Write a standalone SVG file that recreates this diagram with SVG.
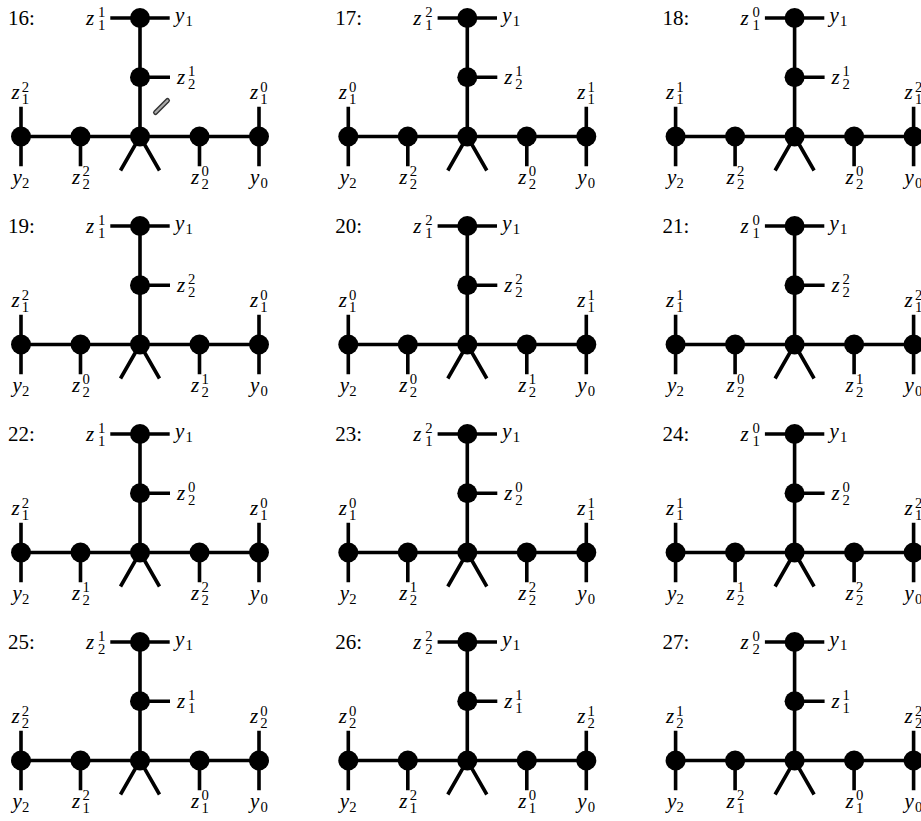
<svg xmlns="http://www.w3.org/2000/svg" xmlns:xlink="http://www.w3.org/1999/xlink" width="921" height="821" viewBox="0 0 921 821">
<style>
.e{fill:none;stroke:#000;stroke-width:3.6;stroke-linecap:butt}
.n{fill:#000}
.m{font-family:"Liberation Serif","Times New Roman",serif;font-style:italic;font-size:21px;fill:#000}
.s{font-style:normal;font-size:14.7px}
.num{font-family:"Liberation Serif","Times New Roman",serif;font-size:21px;fill:#000}
</style>
<defs>
<path id="skel" class="e" d="M0,0V118.5M-119,118.5H119M-29.7,0H29.7M0,59.25H30M-119,88.8V148.2M119,88.8V148.2M-59.5,118.5V148.2M59.5,118.5V148.2M0,118.5L-19.5,152.5M0,118.5L19.5,152.5"/>
</defs>
<rect width="921" height="821" fill="#fff"/>

<g id="p16" transform="translate(140,18)">
<text class="num" x="-132" y="7">16:</text>
<g id="p16-edges"><use xlink:href="#skel" href="#skel"/></g>
<g id="p16-top"><circle class="n" r="10"/><text class="m" x="-54" y="6.5">z<tspan class="s" x="-42" y="-1">1</tspan><tspan class="s" x="-42" y="11.5">1</tspan></text><text class="m" x="35" y="4">y<tspan class="s" x="45.5" y="8">1</tspan></text></g>
<g id="p16-mid"><circle class="n" cy="59.25" r="10"/><text class="m" x="37" y="65.75">z<tspan class="s" x="48" y="58.25">1</tspan><tspan class="s" x="48" y="70.75">2</tspan></text></g>
<g id="p16-left"><circle class="n" cx="-119" cy="118.5" r="10"/><text class="m" x="-128.5" y="81">z<tspan class="s" x="-118.3" y="73.5">2</tspan><tspan class="s" x="-118.3" y="86">1</tspan></text><text class="m" x="-127.5" y="165.5">y<tspan class="s" x="-118" y="169.5">2</tspan></text></g>
<g id="p16-il"><circle class="n" cx="-59.5" cy="118.5" r="10"/><text class="m" x="-68" y="165.5">z<tspan class="s" x="-57.5" y="158">2</tspan><tspan class="s" x="-57.5" y="171">2</tspan></text></g>
<g id="p16-hub"><circle class="n" cy="118.5" r="10"/></g>
<g id="p16-ir"><circle class="n" cx="59.5" cy="118.5" r="10"/><text class="m" x="51" y="165.5">z<tspan class="s" x="61.5" y="158">0</tspan><tspan class="s" x="61.5" y="171">2</tspan></text></g>
<g id="p16-right"><circle class="n" cx="119" cy="118.5" r="10"/><text class="m" x="110" y="81">z<tspan class="s" x="120.3" y="73.5">0</tspan><tspan class="s" x="120.3" y="86">1</tspan></text><text class="m" x="110" y="165.5">y<tspan class="s" x="120.5" y="169.5">0</tspan></text></g>
<g id="mark"><line x1="15.5" y1="94.5" x2="27.5" y2="82.5" stroke="#333" stroke-width="5" stroke-linecap="round"/><line x1="15.5" y1="94.5" x2="27.5" y2="82.5" stroke="#aaa" stroke-width="2.2" stroke-linecap="round"/></g>
</g>

<g id="p17" transform="translate(467.3,18)">
<text class="num" x="-132" y="7">17:</text>
<g id="p17-edges"><use xlink:href="#skel" href="#skel"/></g>
<g id="p17-top"><circle class="n" r="10"/><text class="m" x="-54" y="6.5">z<tspan class="s" x="-42" y="-1">2</tspan><tspan class="s" x="-42" y="11.5">1</tspan></text><text class="m" x="35" y="4">y<tspan class="s" x="45.5" y="8">1</tspan></text></g>
<g id="p17-mid"><circle class="n" cy="59.25" r="10"/><text class="m" x="37" y="65.75">z<tspan class="s" x="48" y="58.25">1</tspan><tspan class="s" x="48" y="70.75">2</tspan></text></g>
<g id="p17-left"><circle class="n" cx="-119" cy="118.5" r="10"/><text class="m" x="-128.5" y="81">z<tspan class="s" x="-118.3" y="73.5">0</tspan><tspan class="s" x="-118.3" y="86">1</tspan></text><text class="m" x="-127.5" y="165.5">y<tspan class="s" x="-118" y="169.5">2</tspan></text></g>
<g id="p17-il"><circle class="n" cx="-59.5" cy="118.5" r="10"/><text class="m" x="-68" y="165.5">z<tspan class="s" x="-57.5" y="158">2</tspan><tspan class="s" x="-57.5" y="171">2</tspan></text></g>
<g id="p17-hub"><circle class="n" cy="118.5" r="10"/></g>
<g id="p17-ir"><circle class="n" cx="59.5" cy="118.5" r="10"/><text class="m" x="51" y="165.5">z<tspan class="s" x="61.5" y="158">0</tspan><tspan class="s" x="61.5" y="171">2</tspan></text></g>
<g id="p17-right"><circle class="n" cx="119" cy="118.5" r="10"/><text class="m" x="110" y="81">z<tspan class="s" x="120.3" y="73.5">1</tspan><tspan class="s" x="120.3" y="86">1</tspan></text><text class="m" x="110" y="165.5">y<tspan class="s" x="120.5" y="169.5">0</tspan></text></g>
</g>

<g id="p18" transform="translate(794.6,18)">
<text class="num" x="-132" y="7">18:</text>
<g id="p18-edges"><use xlink:href="#skel" href="#skel"/></g>
<g id="p18-top"><circle class="n" r="10"/><text class="m" x="-54" y="6.5">z<tspan class="s" x="-42" y="-1">0</tspan><tspan class="s" x="-42" y="11.5">1</tspan></text><text class="m" x="35" y="4">y<tspan class="s" x="45.5" y="8">1</tspan></text></g>
<g id="p18-mid"><circle class="n" cy="59.25" r="10"/><text class="m" x="37" y="65.75">z<tspan class="s" x="48" y="58.25">1</tspan><tspan class="s" x="48" y="70.75">2</tspan></text></g>
<g id="p18-left"><circle class="n" cx="-119" cy="118.5" r="10"/><text class="m" x="-128.5" y="81">z<tspan class="s" x="-118.3" y="73.5">1</tspan><tspan class="s" x="-118.3" y="86">1</tspan></text><text class="m" x="-127.5" y="165.5">y<tspan class="s" x="-118" y="169.5">2</tspan></text></g>
<g id="p18-il"><circle class="n" cx="-59.5" cy="118.5" r="10"/><text class="m" x="-68" y="165.5">z<tspan class="s" x="-57.5" y="158">2</tspan><tspan class="s" x="-57.5" y="171">2</tspan></text></g>
<g id="p18-hub"><circle class="n" cy="118.5" r="10"/></g>
<g id="p18-ir"><circle class="n" cx="59.5" cy="118.5" r="10"/><text class="m" x="51" y="165.5">z<tspan class="s" x="61.5" y="158">0</tspan><tspan class="s" x="61.5" y="171">2</tspan></text></g>
<g id="p18-right"><circle class="n" cx="119" cy="118.5" r="10"/><text class="m" x="110" y="81">z<tspan class="s" x="120.3" y="73.5">2</tspan><tspan class="s" x="120.3" y="86">1</tspan></text><text class="m" x="110" y="165.5">y<tspan class="s" x="120.5" y="169.5">0</tspan></text></g>
</g>

<g id="p19" transform="translate(140,226)">
<text class="num" x="-132" y="7">19:</text>
<g id="p19-edges"><use xlink:href="#skel" href="#skel"/></g>
<g id="p19-top"><circle class="n" r="10"/><text class="m" x="-54" y="6.5">z<tspan class="s" x="-42" y="-1">1</tspan><tspan class="s" x="-42" y="11.5">1</tspan></text><text class="m" x="35" y="4">y<tspan class="s" x="45.5" y="8">1</tspan></text></g>
<g id="p19-mid"><circle class="n" cy="59.25" r="10"/><text class="m" x="37" y="65.75">z<tspan class="s" x="48" y="58.25">2</tspan><tspan class="s" x="48" y="70.75">2</tspan></text></g>
<g id="p19-left"><circle class="n" cx="-119" cy="118.5" r="10"/><text class="m" x="-128.5" y="81">z<tspan class="s" x="-118.3" y="73.5">2</tspan><tspan class="s" x="-118.3" y="86">1</tspan></text><text class="m" x="-127.5" y="165.5">y<tspan class="s" x="-118" y="169.5">2</tspan></text></g>
<g id="p19-il"><circle class="n" cx="-59.5" cy="118.5" r="10"/><text class="m" x="-68" y="165.5">z<tspan class="s" x="-57.5" y="158">0</tspan><tspan class="s" x="-57.5" y="171">2</tspan></text></g>
<g id="p19-hub"><circle class="n" cy="118.5" r="10"/></g>
<g id="p19-ir"><circle class="n" cx="59.5" cy="118.5" r="10"/><text class="m" x="51" y="165.5">z<tspan class="s" x="61.5" y="158">1</tspan><tspan class="s" x="61.5" y="171">2</tspan></text></g>
<g id="p19-right"><circle class="n" cx="119" cy="118.5" r="10"/><text class="m" x="110" y="81">z<tspan class="s" x="120.3" y="73.5">0</tspan><tspan class="s" x="120.3" y="86">1</tspan></text><text class="m" x="110" y="165.5">y<tspan class="s" x="120.5" y="169.5">0</tspan></text></g>
</g>

<g id="p20" transform="translate(467.3,226)">
<text class="num" x="-132" y="7">20:</text>
<g id="p20-edges"><use xlink:href="#skel" href="#skel"/></g>
<g id="p20-top"><circle class="n" r="10"/><text class="m" x="-54" y="6.5">z<tspan class="s" x="-42" y="-1">2</tspan><tspan class="s" x="-42" y="11.5">1</tspan></text><text class="m" x="35" y="4">y<tspan class="s" x="45.5" y="8">1</tspan></text></g>
<g id="p20-mid"><circle class="n" cy="59.25" r="10"/><text class="m" x="37" y="65.75">z<tspan class="s" x="48" y="58.25">2</tspan><tspan class="s" x="48" y="70.75">2</tspan></text></g>
<g id="p20-left"><circle class="n" cx="-119" cy="118.5" r="10"/><text class="m" x="-128.5" y="81">z<tspan class="s" x="-118.3" y="73.5">0</tspan><tspan class="s" x="-118.3" y="86">1</tspan></text><text class="m" x="-127.5" y="165.5">y<tspan class="s" x="-118" y="169.5">2</tspan></text></g>
<g id="p20-il"><circle class="n" cx="-59.5" cy="118.5" r="10"/><text class="m" x="-68" y="165.5">z<tspan class="s" x="-57.5" y="158">0</tspan><tspan class="s" x="-57.5" y="171">2</tspan></text></g>
<g id="p20-hub"><circle class="n" cy="118.5" r="10"/></g>
<g id="p20-ir"><circle class="n" cx="59.5" cy="118.5" r="10"/><text class="m" x="51" y="165.5">z<tspan class="s" x="61.5" y="158">1</tspan><tspan class="s" x="61.5" y="171">2</tspan></text></g>
<g id="p20-right"><circle class="n" cx="119" cy="118.5" r="10"/><text class="m" x="110" y="81">z<tspan class="s" x="120.3" y="73.5">1</tspan><tspan class="s" x="120.3" y="86">1</tspan></text><text class="m" x="110" y="165.5">y<tspan class="s" x="120.5" y="169.5">0</tspan></text></g>
</g>

<g id="p21" transform="translate(794.6,226)">
<text class="num" x="-132" y="7">21:</text>
<g id="p21-edges"><use xlink:href="#skel" href="#skel"/></g>
<g id="p21-top"><circle class="n" r="10"/><text class="m" x="-54" y="6.5">z<tspan class="s" x="-42" y="-1">0</tspan><tspan class="s" x="-42" y="11.5">1</tspan></text><text class="m" x="35" y="4">y<tspan class="s" x="45.5" y="8">1</tspan></text></g>
<g id="p21-mid"><circle class="n" cy="59.25" r="10"/><text class="m" x="37" y="65.75">z<tspan class="s" x="48" y="58.25">2</tspan><tspan class="s" x="48" y="70.75">2</tspan></text></g>
<g id="p21-left"><circle class="n" cx="-119" cy="118.5" r="10"/><text class="m" x="-128.5" y="81">z<tspan class="s" x="-118.3" y="73.5">1</tspan><tspan class="s" x="-118.3" y="86">1</tspan></text><text class="m" x="-127.5" y="165.5">y<tspan class="s" x="-118" y="169.5">2</tspan></text></g>
<g id="p21-il"><circle class="n" cx="-59.5" cy="118.5" r="10"/><text class="m" x="-68" y="165.5">z<tspan class="s" x="-57.5" y="158">0</tspan><tspan class="s" x="-57.5" y="171">2</tspan></text></g>
<g id="p21-hub"><circle class="n" cy="118.5" r="10"/></g>
<g id="p21-ir"><circle class="n" cx="59.5" cy="118.5" r="10"/><text class="m" x="51" y="165.5">z<tspan class="s" x="61.5" y="158">1</tspan><tspan class="s" x="61.5" y="171">2</tspan></text></g>
<g id="p21-right"><circle class="n" cx="119" cy="118.5" r="10"/><text class="m" x="110" y="81">z<tspan class="s" x="120.3" y="73.5">2</tspan><tspan class="s" x="120.3" y="86">1</tspan></text><text class="m" x="110" y="165.5">y<tspan class="s" x="120.5" y="169.5">0</tspan></text></g>
</g>

<g id="p22" transform="translate(140,434)">
<text class="num" x="-132" y="7">22:</text>
<g id="p22-edges"><use xlink:href="#skel" href="#skel"/></g>
<g id="p22-top"><circle class="n" r="10"/><text class="m" x="-54" y="6.5">z<tspan class="s" x="-42" y="-1">1</tspan><tspan class="s" x="-42" y="11.5">1</tspan></text><text class="m" x="35" y="4">y<tspan class="s" x="45.5" y="8">1</tspan></text></g>
<g id="p22-mid"><circle class="n" cy="59.25" r="10"/><text class="m" x="37" y="65.75">z<tspan class="s" x="48" y="58.25">0</tspan><tspan class="s" x="48" y="70.75">2</tspan></text></g>
<g id="p22-left"><circle class="n" cx="-119" cy="118.5" r="10"/><text class="m" x="-128.5" y="81">z<tspan class="s" x="-118.3" y="73.5">2</tspan><tspan class="s" x="-118.3" y="86">1</tspan></text><text class="m" x="-127.5" y="165.5">y<tspan class="s" x="-118" y="169.5">2</tspan></text></g>
<g id="p22-il"><circle class="n" cx="-59.5" cy="118.5" r="10"/><text class="m" x="-68" y="165.5">z<tspan class="s" x="-57.5" y="158">1</tspan><tspan class="s" x="-57.5" y="171">2</tspan></text></g>
<g id="p22-hub"><circle class="n" cy="118.5" r="10"/></g>
<g id="p22-ir"><circle class="n" cx="59.5" cy="118.5" r="10"/><text class="m" x="51" y="165.5">z<tspan class="s" x="61.5" y="158">2</tspan><tspan class="s" x="61.5" y="171">2</tspan></text></g>
<g id="p22-right"><circle class="n" cx="119" cy="118.5" r="10"/><text class="m" x="110" y="81">z<tspan class="s" x="120.3" y="73.5">0</tspan><tspan class="s" x="120.3" y="86">1</tspan></text><text class="m" x="110" y="165.5">y<tspan class="s" x="120.5" y="169.5">0</tspan></text></g>
</g>

<g id="p23" transform="translate(467.3,434)">
<text class="num" x="-132" y="7">23:</text>
<g id="p23-edges"><use xlink:href="#skel" href="#skel"/></g>
<g id="p23-top"><circle class="n" r="10"/><text class="m" x="-54" y="6.5">z<tspan class="s" x="-42" y="-1">2</tspan><tspan class="s" x="-42" y="11.5">1</tspan></text><text class="m" x="35" y="4">y<tspan class="s" x="45.5" y="8">1</tspan></text></g>
<g id="p23-mid"><circle class="n" cy="59.25" r="10"/><text class="m" x="37" y="65.75">z<tspan class="s" x="48" y="58.25">0</tspan><tspan class="s" x="48" y="70.75">2</tspan></text></g>
<g id="p23-left"><circle class="n" cx="-119" cy="118.5" r="10"/><text class="m" x="-128.5" y="81">z<tspan class="s" x="-118.3" y="73.5">0</tspan><tspan class="s" x="-118.3" y="86">1</tspan></text><text class="m" x="-127.5" y="165.5">y<tspan class="s" x="-118" y="169.5">2</tspan></text></g>
<g id="p23-il"><circle class="n" cx="-59.5" cy="118.5" r="10"/><text class="m" x="-68" y="165.5">z<tspan class="s" x="-57.5" y="158">1</tspan><tspan class="s" x="-57.5" y="171">2</tspan></text></g>
<g id="p23-hub"><circle class="n" cy="118.5" r="10"/></g>
<g id="p23-ir"><circle class="n" cx="59.5" cy="118.5" r="10"/><text class="m" x="51" y="165.5">z<tspan class="s" x="61.5" y="158">2</tspan><tspan class="s" x="61.5" y="171">2</tspan></text></g>
<g id="p23-right"><circle class="n" cx="119" cy="118.5" r="10"/><text class="m" x="110" y="81">z<tspan class="s" x="120.3" y="73.5">1</tspan><tspan class="s" x="120.3" y="86">1</tspan></text><text class="m" x="110" y="165.5">y<tspan class="s" x="120.5" y="169.5">0</tspan></text></g>
</g>

<g id="p24" transform="translate(794.6,434)">
<text class="num" x="-132" y="7">24:</text>
<g id="p24-edges"><use xlink:href="#skel" href="#skel"/></g>
<g id="p24-top"><circle class="n" r="10"/><text class="m" x="-54" y="6.5">z<tspan class="s" x="-42" y="-1">0</tspan><tspan class="s" x="-42" y="11.5">1</tspan></text><text class="m" x="35" y="4">y<tspan class="s" x="45.5" y="8">1</tspan></text></g>
<g id="p24-mid"><circle class="n" cy="59.25" r="10"/><text class="m" x="37" y="65.75">z<tspan class="s" x="48" y="58.25">0</tspan><tspan class="s" x="48" y="70.75">2</tspan></text></g>
<g id="p24-left"><circle class="n" cx="-119" cy="118.5" r="10"/><text class="m" x="-128.5" y="81">z<tspan class="s" x="-118.3" y="73.5">1</tspan><tspan class="s" x="-118.3" y="86">1</tspan></text><text class="m" x="-127.5" y="165.5">y<tspan class="s" x="-118" y="169.5">2</tspan></text></g>
<g id="p24-il"><circle class="n" cx="-59.5" cy="118.5" r="10"/><text class="m" x="-68" y="165.5">z<tspan class="s" x="-57.5" y="158">1</tspan><tspan class="s" x="-57.5" y="171">2</tspan></text></g>
<g id="p24-hub"><circle class="n" cy="118.5" r="10"/></g>
<g id="p24-ir"><circle class="n" cx="59.5" cy="118.5" r="10"/><text class="m" x="51" y="165.5">z<tspan class="s" x="61.5" y="158">2</tspan><tspan class="s" x="61.5" y="171">2</tspan></text></g>
<g id="p24-right"><circle class="n" cx="119" cy="118.5" r="10"/><text class="m" x="110" y="81">z<tspan class="s" x="120.3" y="73.5">2</tspan><tspan class="s" x="120.3" y="86">1</tspan></text><text class="m" x="110" y="165.5">y<tspan class="s" x="120.5" y="169.5">0</tspan></text></g>
</g>

<g id="p25" transform="translate(140,642)">
<text class="num" x="-132" y="7">25:</text>
<g id="p25-edges"><use xlink:href="#skel" href="#skel"/></g>
<g id="p25-top"><circle class="n" r="10"/><text class="m" x="-54" y="6.5">z<tspan class="s" x="-42" y="-1">1</tspan><tspan class="s" x="-42" y="11.5">2</tspan></text><text class="m" x="35" y="4">y<tspan class="s" x="45.5" y="8">1</tspan></text></g>
<g id="p25-mid"><circle class="n" cy="59.25" r="10"/><text class="m" x="37" y="65.75">z<tspan class="s" x="48" y="58.25">1</tspan><tspan class="s" x="48" y="70.75">1</tspan></text></g>
<g id="p25-left"><circle class="n" cx="-119" cy="118.5" r="10"/><text class="m" x="-128.5" y="81">z<tspan class="s" x="-118.3" y="73.5">2</tspan><tspan class="s" x="-118.3" y="86">2</tspan></text><text class="m" x="-127.5" y="165.5">y<tspan class="s" x="-118" y="169.5">2</tspan></text></g>
<g id="p25-il"><circle class="n" cx="-59.5" cy="118.5" r="10"/><text class="m" x="-68" y="165.5">z<tspan class="s" x="-57.5" y="158">2</tspan><tspan class="s" x="-57.5" y="171">1</tspan></text></g>
<g id="p25-hub"><circle class="n" cy="118.5" r="10"/></g>
<g id="p25-ir"><circle class="n" cx="59.5" cy="118.5" r="10"/><text class="m" x="51" y="165.5">z<tspan class="s" x="61.5" y="158">0</tspan><tspan class="s" x="61.5" y="171">1</tspan></text></g>
<g id="p25-right"><circle class="n" cx="119" cy="118.5" r="10"/><text class="m" x="110" y="81">z<tspan class="s" x="120.3" y="73.5">0</tspan><tspan class="s" x="120.3" y="86">2</tspan></text><text class="m" x="110" y="165.5">y<tspan class="s" x="120.5" y="169.5">0</tspan></text></g>
</g>

<g id="p26" transform="translate(467.3,642)">
<text class="num" x="-132" y="7">26:</text>
<g id="p26-edges"><use xlink:href="#skel" href="#skel"/></g>
<g id="p26-top"><circle class="n" r="10"/><text class="m" x="-54" y="6.5">z<tspan class="s" x="-42" y="-1">2</tspan><tspan class="s" x="-42" y="11.5">2</tspan></text><text class="m" x="35" y="4">y<tspan class="s" x="45.5" y="8">1</tspan></text></g>
<g id="p26-mid"><circle class="n" cy="59.25" r="10"/><text class="m" x="37" y="65.75">z<tspan class="s" x="48" y="58.25">1</tspan><tspan class="s" x="48" y="70.75">1</tspan></text></g>
<g id="p26-left"><circle class="n" cx="-119" cy="118.5" r="10"/><text class="m" x="-128.5" y="81">z<tspan class="s" x="-118.3" y="73.5">0</tspan><tspan class="s" x="-118.3" y="86">2</tspan></text><text class="m" x="-127.5" y="165.5">y<tspan class="s" x="-118" y="169.5">2</tspan></text></g>
<g id="p26-il"><circle class="n" cx="-59.5" cy="118.5" r="10"/><text class="m" x="-68" y="165.5">z<tspan class="s" x="-57.5" y="158">2</tspan><tspan class="s" x="-57.5" y="171">1</tspan></text></g>
<g id="p26-hub"><circle class="n" cy="118.5" r="10"/></g>
<g id="p26-ir"><circle class="n" cx="59.5" cy="118.5" r="10"/><text class="m" x="51" y="165.5">z<tspan class="s" x="61.5" y="158">0</tspan><tspan class="s" x="61.5" y="171">1</tspan></text></g>
<g id="p26-right"><circle class="n" cx="119" cy="118.5" r="10"/><text class="m" x="110" y="81">z<tspan class="s" x="120.3" y="73.5">1</tspan><tspan class="s" x="120.3" y="86">2</tspan></text><text class="m" x="110" y="165.5">y<tspan class="s" x="120.5" y="169.5">0</tspan></text></g>
</g>

<g id="p27" transform="translate(794.6,642)">
<text class="num" x="-132" y="7">27:</text>
<g id="p27-edges"><use xlink:href="#skel" href="#skel"/></g>
<g id="p27-top"><circle class="n" r="10"/><text class="m" x="-54" y="6.5">z<tspan class="s" x="-42" y="-1">0</tspan><tspan class="s" x="-42" y="11.5">2</tspan></text><text class="m" x="35" y="4">y<tspan class="s" x="45.5" y="8">1</tspan></text></g>
<g id="p27-mid"><circle class="n" cy="59.25" r="10"/><text class="m" x="37" y="65.75">z<tspan class="s" x="48" y="58.25">1</tspan><tspan class="s" x="48" y="70.75">1</tspan></text></g>
<g id="p27-left"><circle class="n" cx="-119" cy="118.5" r="10"/><text class="m" x="-128.5" y="81">z<tspan class="s" x="-118.3" y="73.5">1</tspan><tspan class="s" x="-118.3" y="86">2</tspan></text><text class="m" x="-127.5" y="165.5">y<tspan class="s" x="-118" y="169.5">2</tspan></text></g>
<g id="p27-il"><circle class="n" cx="-59.5" cy="118.5" r="10"/><text class="m" x="-68" y="165.5">z<tspan class="s" x="-57.5" y="158">2</tspan><tspan class="s" x="-57.5" y="171">1</tspan></text></g>
<g id="p27-hub"><circle class="n" cy="118.5" r="10"/></g>
<g id="p27-ir"><circle class="n" cx="59.5" cy="118.5" r="10"/><text class="m" x="51" y="165.5">z<tspan class="s" x="61.5" y="158">0</tspan><tspan class="s" x="61.5" y="171">1</tspan></text></g>
<g id="p27-right"><circle class="n" cx="119" cy="118.5" r="10"/><text class="m" x="110" y="81">z<tspan class="s" x="120.3" y="73.5">2</tspan><tspan class="s" x="120.3" y="86">2</tspan></text><text class="m" x="110" y="165.5">y<tspan class="s" x="120.5" y="169.5">0</tspan></text></g>
</g>
</svg>
